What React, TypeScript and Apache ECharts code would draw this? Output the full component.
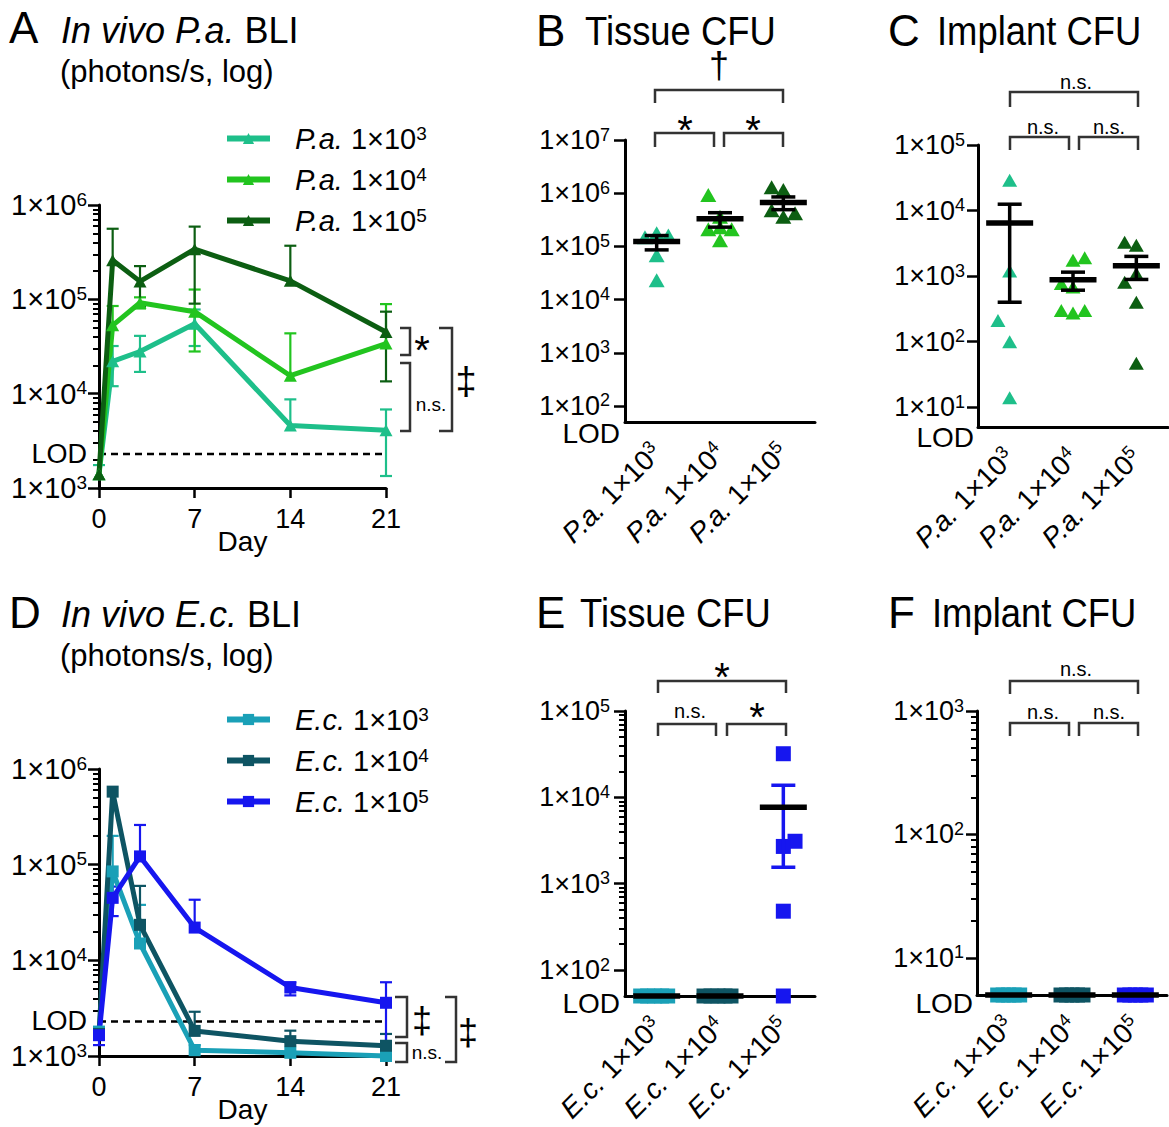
import React, { useEffect, useRef } from "react";
import * as echarts from "echarts";

const FONT = "'Liberation Sans', Arial, Helvetica, sans-serif";

// ---------------- data ----------------
const DAYS = [0, 1, 3, 7, 14, 21];
const LOD_BLI = 2300;
const LOD_TISSUE = 50;
const LOD_IMPLANT = 5;

const PA_GROUPS = ["P.a. 1×10^3", "P.a. 1×10^4", "P.a. 1×10^5"];
const EC_GROUPS = ["E.c. 1×10^3", "E.c. 1×10^4", "E.c. 1×10^5"];

// Panel A (photons/s)
const PA3_MEAN = [1400, 22000, 28000, 55000, 4600, 4100];
const PA3_LOW = [null, 12000, 17000, 32000, null, 1340];
const PA3_HIGH = [1750, 32000, 41000, 78000, 8700, 6800];
const PA4_MEAN = [1400, 53000, 92000, 74000, 15500, 34000];
const PA4_LOW = [null, null, 80000, 28000, null, null];
const PA4_HIGH = [null, 85000, 105000, 127000, 43600, 89000];
const PA5_MEAN = [1400, 260000, 155000, 340000, 157000, 45000];
const PA5_LOW = [null, null, 84000, 90000, null, 13500];
const PA5_HIGH = [null, 560000, 225000, 590000, 370000, 74000];

// Panel D (photons/s)
const EC3_MEAN = [1800, 85000, 15000, 1150, 1080, 1000];
const EC3_LOW = [null, null, null, null, null, null];
const EC3_HIGH = [null, 200000, 38000, 1300, null, null];
const EC4_MEAN = [1700, 580000, 23500, 1830, 1430, 1280];
const EC4_LOW = [null, null, null, null, 1050, null];
const EC4_HIGH = [null, null, 60000, 2900, 1840, 1700];
const EC5_MEAN = [1650, 45000, 122000, 22000, 5200, 3600];
const EC5_LOW = [1300, 29000, null, null, 4300, 1300];
const EC5_HIGH = [2000, 59000, 260000, 43000, 5900, 5900];

// Panel B (tissue CFU)
const B_PA3 = [148000, 176000, 160000, 68000, 23000];
const B_PA4 = [920000, 360000, 210000, 230000, 210000, 130000];
const B_PA5 = [1300000, 1150000, 480000, 420000, 360000];
const B_MEAN = [123000, 330000, 670000];
const B_SEM = [37000, 100000, 180000];

// Panel C (implant CFU)
const C_PA3 = [29000, 1200, 210, 100, 14];
const C_PA4 = [1750, 1900, 770, 680, 300, 275, 300];
const C_PA5 = [3300, 2950, 810, 1100, 400, 47];
const C_MEAN = [6450, 880, 1445];
const C_SEM = [6050, 270, 555];

// Panel E (tissue CFU)
const E_EC3 = [50, 50, 50, 50, 50];
const E_EC4 = [50, 50, 50, 50, 50];
const E_EC5 = [32000, 3100, 2700, 480, 50];
const E_MEAN = [50, 50, 7675];
const E_SEM = [0, 0, 6125];

// Panel F (implant CFU)
const F_EC3 = [5, 5, 5, 5, 5];
const F_EC4 = [5, 5, 5, 5, 5];
const F_EC5 = [5, 5, 5, 5, 5];
const F_MEAN = [5, 5, 5];
const F_SEM = [0, 0, 0];

// ---------------- styles ----------------
const PA_COLORS = ["#1ebf8a", "#22c41f", "#0c5e12"];
const EC_COLORS = ["#1aa0b7", "#0e5463", "#1616ef"];
// horizontal jitter of scatter points (px)
const S = 11.7;
const B_JIT = [[-S, 0, S, 0, 0], [-S, 0, -S, 0, S, 0], [-S, 0, -S, S, 0]];
const C_JIT = [[0, 0, -S, 0, 0], [0, S, -S, 0, -S, 0, S], [-S, 0, -S, 0, 0, 0]];
const E_JIT = [[-16, -9, -2, 5, 11], [-16, -9, -2, 5, 11], [0, S, 0, 0, 0]];
const F_JIT = [[-11, -5.5, 0, 5.5, 11], [-11, -5.5, 0, 5.5, 11], [-11, -5.5, 0, 5.5, 11]];

const log = (v: number) => Math.log10(v);
const fmtGroup = (s: string) => s.replace(/^(\S+) 1×10\^(\d+)$/, "{i|$1} 1×10{s|$2}");

function minorTicks(fromExp: number, toExp: number) {
  const out: number[] = [];
  for (let n = fromExp; n < toExp; n++) for (let k = 2; k <= 9; k++) out.push(Math.log10(k * Math.pow(10, n)));
  return out;
}

// lodInset: extra right padding (px) of the power labels relative to the LOD label
function yAxes(grid: number, min: number, max: number, majors: number[], minors: number[], lodVal: number, fs: number, supFs: number, lodFs: number, lodPad: number, margin: number, lodInset: number) {
  const rich = {
    s: { fontSize: supFs, verticalAlign: "top", lineHeight: Math.round(supFs * 0.7), fontFamily: FONT, color: "#000", padding: [0, lodInset, 0, 0] },
    lod: { fontSize: lodFs, fontFamily: FONT, color: "#000", padding: [lodPad, 0, 0, 0] },
  };
  return [
    {
      type: "value", gridIndex: grid, position: "left", min, max,
      axisLine: { show: true, onZero: false, lineStyle: { color: "#000", width: 3 } },
      axisTick: { show: true, customValues: majors, length: 11, lineStyle: { color: "#000", width: 2.5 } },
      axisLabel: {
        show: true, customValues: [...majors, lodVal], fontSize: fs, fontFamily: FONT, color: "#000", margin, lineHeight: fs + 2,
        formatter: (v: number) => (Math.abs(v - lodVal) < 1e-6 ? "{lod|LOD}" : "1×10{s|" + Math.round(v) + "}"),
        rich,
      },
      splitLine: { show: false },
    },
    {
      type: "value", gridIndex: grid, position: "left", min, max,
      axisLine: { show: false }, axisLabel: { show: false }, splitLine: { show: false },
      axisTick: { show: minors.length > 0, customValues: minors.length ? minors : [min], length: 6, lineStyle: { color: "#000", width: 2 } },
    },
  ];
}

function dayAxis(grid: number) {
  return {
    type: "value", gridIndex: grid, min: 0, max: 21, interval: 7,
    axisLine: { onZero: false, lineStyle: { color: "#000", width: 3 } },
    axisTick: { length: 10, lineStyle: { color: "#000", width: 2.5 } },
    axisLabel: { fontSize: 27, fontFamily: FONT, color: "#000", margin: 17 },
    splitLine: { show: false },
    name: "Day", nameLocation: "middle", nameGap: 53, nameMoveOverlap: false,
    nameTextStyle: { fontSize: 28, fontFamily: FONT, color: "#000", verticalAlign: "middle" },
  };
}

function catAxis(grid: number, cats: string[]) {
  return {
    type: "category", gridIndex: grid, data: cats, boundaryGap: true,
    axisLine: { onZero: false, lineStyle: { color: "#000", width: 3 } },
    axisTick: { alignWithLabel: true, length: 10, lineStyle: { color: "#000", width: 2.5 } },
    axisLabel: {
      interval: 0, rotate: 45, fontSize: 28, fontFamily: FONT, color: "#000", margin: 26, lineHeight: 30,
      formatter: fmtGroup,
      rich: {
        i: { fontStyle: "italic", fontSize: 28, fontFamily: FONT, color: "#000" },
        s: { fontSize: 18, verticalAlign: "top", lineHeight: 12, fontFamily: FONT, color: "#000" },
      },
    },
    splitLine: { show: false },
  };
}

function lineS(p: number, name: string, means: number[], color: string, symbol: string) {
  return {
    type: "line", name, xAxisIndex: p, yAxisIndex: 2 * p,
    data: DAYS.map((d, i) => [d, log(means[i])]),
    symbol, symbolSize: symbol === "triangle" ? [13, 12] : 12, showSymbol: true, clip: false, silent: true, z: 3,
    lineStyle: { color, width: 5 }, itemStyle: { color },
  };
}

function errS(p: number, means: number[], lows: (number | null)[], highs: (number | null)[], color: string) {
  return {
    type: "custom", xAxisIndex: p, yAxisIndex: 2 * p, clip: false, silent: true, z: 2,
    data: DAYS.map((d, i) => [d, log(means[i]), log(lows[i] ?? means[i]), log(highs[i] ?? means[i])]),
    encode: { x: 0, y: 1 },
    renderItem: (params: any, api: any) => {
      const x = api.value(0);
      const pm = api.coord([x, api.value(1)]);
      const pl = api.coord([x, api.value(2)]);
      const ph = api.coord([x, api.value(3)]);
      const st = { stroke: color, lineWidth: 2.2 };
      const ch: any[] = [];
      if (pm[1] - ph[1] > 0.5) {
        ch.push({ type: "line", shape: { x1: pm[0], y1: pm[1], x2: pm[0], y2: ph[1] }, style: st });
        ch.push({ type: "line", shape: { x1: pm[0] - 6, y1: ph[1], x2: pm[0] + 6, y2: ph[1] }, style: st });
      }
      if (pl[1] - pm[1] > 0.5) {
        ch.push({ type: "line", shape: { x1: pm[0], y1: pm[1], x2: pm[0], y2: pl[1] }, style: st });
        ch.push({ type: "line", shape: { x1: pm[0] - 6, y1: pl[1], x2: pm[0] + 6, y2: pl[1] }, style: st });
      }
      return { type: "group", children: ch };
    },
  };
}

function lodLine(p: number, lod: number) {
  return {
    type: "line", xAxisIndex: p, yAxisIndex: 2 * p, data: [[0, log(lod)], [21, log(lod)]],
    symbol: "none", silent: true, z: 1, lineStyle: { color: "#000", width: 2.5, type: [7, 5] },
  };
}

function scatterS(p: number, cat: number, vals: number[], jit: number[], color: string, symbol: string, size: any) {
  return {
    type: "scatter", xAxisIndex: p, yAxisIndex: 2 * p, symbol, symbolSize: size, clip: false, silent: true, z: 3,
    itemStyle: { color, opacity: 1 },
    data: vals.map((v, i) => ({ value: [cat, log(v)], symbolOffset: [jit[i], 0] })),
  };
}

function meanSemS(p: number, means: number[], sems: number[], semColors: string[]) {
  return {
    type: "custom", xAxisIndex: p, yAxisIndex: 2 * p, clip: false, silent: true, z: 5,
    data: means.map((m, i) => [i, log(m), log(sems[i] > 0 ? m - sems[i] : m), log(m + sems[i])]),
    renderItem: (params: any, api: any) => {
      const c = api.value(0);
      const pm = api.coord([c, api.value(1)]);
      const pl = api.coord([c, api.value(2)]);
      const ph = api.coord([c, api.value(3)]);
      const col = semColors[params.dataIndex];
      const st = { stroke: col, lineWidth: 3.5 };
      const ch: any[] = [];
      if (pl[1] - ph[1] > 1) {
        ch.push({ type: "line", shape: { x1: pm[0], y1: ph[1], x2: pm[0], y2: pl[1] }, style: st });
        ch.push({ type: "line", shape: { x1: pm[0] - 12, y1: ph[1], x2: pm[0] + 12, y2: ph[1] }, style: st });
        ch.push({ type: "line", shape: { x1: pm[0] - 12, y1: pl[1], x2: pm[0] + 12, y2: pl[1] }, style: st });
      }
      ch.push({ type: "line", shape: { x1: pm[0] - 23.5, y1: pm[1], x2: pm[0] + 23.5, y2: pm[1] }, style: { stroke: "#000", lineWidth: 5.5 } });
      return { type: "group", children: ch };
    },
  };
}

// ---------------- annotations ----------------
function txt(x: number, y: number, text: string, fs: number, opt: any = {}) {
  return {
    type: "text", x, y, silent: true, scaleX: opt.scaleX ?? 1, z: 10,
    style: {
      text, fontSize: fs, fontFamily: FONT, fill: "#000",
      textAlign: opt.align ?? "left", align: opt.align ?? "left",
      textVerticalAlign: "middle", verticalAlign: "middle",
      rich: opt.rich,
    },
  };
}
function poly(points: number[][]) {
  return { type: "polyline", silent: true, z: 10, shape: { points }, style: { stroke: "#333", lineWidth: 2.5, fill: null } };
}
const hBr = (x1: number, x2: number, y: number, y2: number) => poly([[x1, y2], [x1, y], [x2, y], [x2, y2]]);
const vBr = (x: number, y1: number, y2: number, xl: number) => poly([[xl, y1], [x, y1], [x, y2], [xl, y2]]);

function buildOption() {
  const italicRich = (fs: number) => ({ i: { fontStyle: "italic", fontSize: fs, fontFamily: FONT, fill: "#000", color: "#000" } });
  const graphic = [
    txt(9, 27, "A", 44),
    txt(61, 30, "{i|In vivo P.a.} BLI", 36, { rich: italicRich(36) }),
    txt(60, 71, "(photons/s, log)", 31),
    txt(536, 30, "B", 44),
    txt(585, 31, "Tissue CFU", 40, { scaleX: 0.91 }),
    txt(888, 30, "C", 44),
    txt(937, 31, "Implant CFU", 40, { scaleX: 0.91 }),
    txt(9, 612, "D", 44),
    txt(61, 614, "{i|In vivo E.c.} BLI", 36, { rich: italicRich(36) }),
    txt(60, 655, "(photons/s, log)", 31),
    txt(536, 612, "E", 44),
    txt(580, 613, "Tissue CFU", 40, { scaleX: 0.91 }),
    txt(888, 612, "F", 44),
    txt(932, 613, "Implant CFU", 40, { scaleX: 0.91 }),
    // A brackets
    vBr(410, 328, 355, 400), vBr(410, 363, 431, 400), vBr(452, 328, 431, 439),
    txt(422, 350, "*", 40, { align: "center" }),
    txt(431, 404, "n.s.", 19, { align: "center" }),
    txt(466, 381, "‡", 38, { align: "center" }),
    // D brackets
    vBr(407, 997, 1037, 395), vBr(407, 1043, 1062, 395), vBr(456, 997, 1062, 445),
    txt(422, 1020, "‡", 36, { align: "center" }),
    txt(427, 1052, "n.s.", 19, { align: "center" }),
    txt(468, 1032, "‡", 36, { align: "center" }),
    // B brackets
    hBr(655, 783, 90, 103), hBr(655, 714, 133, 147), hBr(724, 783, 133, 147),
    txt(719, 65, "†", 36, { align: "center" }),
    txt(685, 130, "*", 40, { align: "center" }),
    txt(753, 130, "*", 40, { align: "center" }),
    // C brackets
    hBr(1010, 1138, 92, 107), hBr(1010, 1069, 137, 150), hBr(1079, 1138, 137, 150),
    txt(1076, 82, "n.s.", 20, { align: "center" }),
    txt(1043, 127, "n.s.", 20, { align: "center" }),
    txt(1109, 127, "n.s.", 20, { align: "center" }),
    // E brackets
    hBr(658, 786, 681, 693), hBr(658, 716, 724, 736), hBr(727, 786, 724, 736),
    txt(722, 677, "*", 40, { align: "center" }),
    txt(690, 711, "n.s.", 20, { align: "center" }),
    txt(757, 717, "*", 40, { align: "center" }),
    // F brackets
    hBr(1010, 1138, 681, 694), hBr(1010, 1069, 723, 736), hBr(1079, 1138, 723, 736),
    txt(1076, 669, "n.s.", 20, { align: "center" }),
    txt(1043, 712, "n.s.", 20, { align: "center" }),
    txt(1109, 712, "n.s.", 20, { align: "center" }),
  ];

  const grid = [
    { left: 99, top: 205, width: 287, height: 283 },
    { left: 625, top: 140, width: 190, height: 282 },
    { left: 978, top: 145, width: 190, height: 282 },
    { left: 99, top: 769, width: 287, height: 287 },
    { left: 625, top: 711, width: 190, height: 285 },
    { left: 977, top: 711, width: 190, height: 284 },
  ].map((g) => ({ ...g, containLabel: false, outerBoundsMode: "none" }));

  const xAxis = [dayAxis(0), catAxis(1, PA_GROUPS), catAxis(2, PA_GROUPS), dayAxis(3), catAxis(4, EC_GROUPS), catAxis(5, EC_GROUPS)];
  const yAxis = [
    ...yAxes(0, 3, 6, [3, 4, 5, 6], minorTicks(3, 6), log(LOD_BLI), 29, 19, 27, 0, 12, 0),
    ...yAxes(1, log(LOD_TISSUE), 7, [2, 3, 4, 5, 6, 7], [], log(LOD_TISSUE), 27, 18, 28, 22, 5, 10),
    ...yAxes(2, log(LOD_IMPLANT), 5, [1, 2, 3, 4, 5], [], log(LOD_IMPLANT), 27, 18, 28, 20, 4, 9),
    ...yAxes(3, 3, 6, [3, 4, 5, 6], minorTicks(3, 6), log(LOD_BLI), 29, 19, 27, 0, 12, 0),
    ...yAxes(4, log(LOD_TISSUE), 5, [2, 3, 4, 5], minorTicks(2, 5), log(LOD_TISSUE), 27, 18, 28, 14, 5, 10),
    ...yAxes(5, log(LOD_IMPLANT), 3, [1, 2, 3], minorTicks(1, 3), log(LOD_IMPLANT), 27, 18, 28, 16, 4, 9),
  ];

  const series: any[] = [
    // A
    lodLine(0, LOD_BLI),
    errS(0, PA3_MEAN, PA3_LOW, PA3_HIGH, PA_COLORS[0]),
    errS(0, PA4_MEAN, PA4_LOW, PA4_HIGH, PA_COLORS[1]),
    errS(0, PA5_MEAN, PA5_LOW, PA5_HIGH, PA_COLORS[2]),
    lineS(0, PA_GROUPS[0], PA3_MEAN, PA_COLORS[0], "triangle"),
    lineS(0, PA_GROUPS[1], PA4_MEAN, PA_COLORS[1], "triangle"),
    lineS(0, PA_GROUPS[2], PA5_MEAN, PA_COLORS[2], "triangle"),
    // B
    scatterS(1, 0, B_PA3, B_JIT[0], PA_COLORS[0], "triangle", [16, 14]),
    scatterS(1, 1, B_PA4, B_JIT[1], PA_COLORS[1], "triangle", [16, 14]),
    scatterS(1, 2, B_PA5, B_JIT[2], PA_COLORS[2], "triangle", [16, 14]),
    meanSemS(1, B_MEAN, B_SEM, ["#000", "#000", "#000"]),
    // C
    scatterS(2, 0, C_PA3, C_JIT[0], PA_COLORS[0], "triangle", [15, 13]),
    scatterS(2, 1, C_PA4, C_JIT[1], PA_COLORS[1], "triangle", [15, 13]),
    scatterS(2, 2, C_PA5, C_JIT[2], PA_COLORS[2], "triangle", [15, 13]),
    meanSemS(2, C_MEAN, C_SEM, ["#000", "#000", "#000"]),
    // D
    lodLine(3, LOD_BLI),
    errS(3, EC3_MEAN, EC3_LOW, EC3_HIGH, EC_COLORS[0]),
    errS(3, EC4_MEAN, EC4_LOW, EC4_HIGH, EC_COLORS[1]),
    errS(3, EC5_MEAN, EC5_LOW, EC5_HIGH, EC_COLORS[2]),
    lineS(3, EC_GROUPS[0], EC3_MEAN, EC_COLORS[0], "rect"),
    lineS(3, EC_GROUPS[1], EC4_MEAN, EC_COLORS[1], "rect"),
    lineS(3, EC_GROUPS[2], EC5_MEAN, EC_COLORS[2], "rect"),
    // E
    scatterS(4, 0, E_EC3, E_JIT[0], EC_COLORS[0], "rect", 15),
    scatterS(4, 1, E_EC4, E_JIT[1], EC_COLORS[1], "rect", 15),
    scatterS(4, 2, E_EC5, E_JIT[2], EC_COLORS[2], "rect", 15),
    meanSemS(4, E_MEAN, E_SEM, ["#000", "#000", EC_COLORS[2]]),
    // F
    scatterS(5, 0, F_EC3, F_JIT[0], EC_COLORS[0], "rect", 15),
    scatterS(5, 1, F_EC4, F_JIT[1], EC_COLORS[1], "rect", 15),
    scatterS(5, 2, F_EC5, F_JIT[2], EC_COLORS[2], "rect", 15),
    meanSemS(5, F_MEAN, F_SEM, ["#000", "#000", "#000"]),
  ];

  const legendText = {
    fontSize: 29, fontFamily: FONT, color: "#000", padding: [0, 0, 0, 20],
    rich: {
      i: { fontStyle: "italic", fontSize: 29, fontFamily: FONT, color: "#000" },
      s: { fontSize: 19, verticalAlign: "top", lineHeight: 12, fontFamily: FONT, color: "#000" },
    },
  };
  const legendBase = {
    orient: "vertical", left: 224, padding: 0, itemWidth: 43, itemHeight: 14, itemGap: 12, selectedMode: false,
    formatter: fmtGroup, textStyle: legendText, lineStyle: { width: 6 },
  };
  const legend = [
    { ...legendBase, data: PA_GROUPS, top: 124 },
    { ...legendBase, data: EC_GROUPS, top: 705 },
  ];

  return {
    animation: false,
    backgroundColor: "#fff",
    textStyle: { fontFamily: FONT },
    grid, xAxis, yAxis, series, legend, graphic,
  };
}

export default function App() {
  const ref = useRef<HTMLDivElement>(null);
  useEffect(() => {
    const chart = echarts.init(ref.current!, null, { renderer: "svg", width: 1169, height: 1127 });
    chart.setOption(buildOption() as any);
    return () => chart.dispose();
  }, []);
  return <div ref={ref} style={{ position: "absolute", left: 0, top: 0, width: 1169, height: 1127, background: "#fff" }} />;
}
